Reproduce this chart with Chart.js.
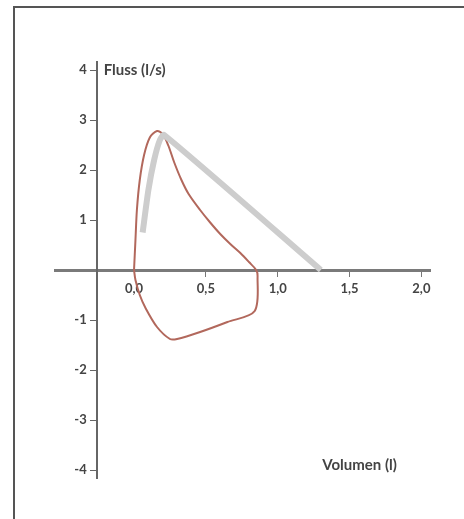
<!DOCTYPE html>
<html>
<head>
<meta charset="utf-8">
<script src="https://cdn.jsdelivr.net/npm/chart.js@4/dist/chart.umd.min.js"></script>
<style>
    body { margin: 0; background: #fff; }
    #wrap { position: relative; width: 464px; height: 519px; overflow: hidden; }
    #frame {
        position: absolute; left: 13px; top: 6px; width: 520px; height: 560px;
        border-left: 2px solid #555; border-top: 2px solid #555;
    }
    #flowChart { position: absolute; left: 0; top: 0; }
</style>
</head>
<body>
<div id="wrap">
    <div id="frame"></div>
    <canvas id="flowChart" width="464" height="519"></canvas>
</div>
<script>
// Tick positions and their labels
var xTicks = [0, 0.5, 1.0, 1.5, 2.0];
var xTickLabels = ['0,0', '0,5', '1,0', '1,5', '2,0'];
var yTicks = [4, 3, 2, 1, -1, -2, -3, -4];
var yTickLabels = ['4', '3', '2', '1', '-1', '-2', '-3', '-4'];

// Measured loop (volume in l, flow in l/s)
var loopVolume = [0.00, 0.01, 0.02, 0.04, 0.07, 0.11, 0.16, 0.20, 0.24, 0.28, 0.33, 0.38, 0.46, 0.53, 0.60, 0.67, 0.74, 0.80, 0.85, 0.86, 0.84, 0.65, 0.46, 0.30, 0.25, 0.16, 0.08, 0.04, 0.01, 0.00];
var loopFlow   = [0.00, 0.60, 1.20, 1.80, 2.30, 2.65, 2.78, 2.72, 2.48, 2.15, 1.80, 1.52, 1.20, 0.95, 0.72, 0.52, 0.34, 0.16, 0.00, -0.12, -0.82, -1.04, -1.24, -1.38, -1.38, -1.14, -0.76, -0.50, -0.20, 0.00];

// Predicted curve (grey)
var predVolume = [0.06, 0.10, 0.14, 0.18, 0.21, 1.30];
var predFlow   = [0.75, 1.60, 2.20, 2.60, 2.70, 0.00];

function toPoints(xs, ys) {
    var pts = [];
    for (var i = 0; i < xs.length; i++) {
        pts.push({x: xs[i], y: ys[i]});
    }
    return pts;
}

// Axis titles and y tick labels (Chart.js puts labels of a value-positioned
// y axis right on the axis line, so they are drawn here with a gap)
var axisText = {
    id: 'axisText',
    afterDraw: function(chart) {
        var ctx = chart.ctx;
        var xs = chart.scales.x;
        var ys = chart.scales.y;
        var axisX = xs.getPixelForValue(-0.26);
        ctx.save();
        ctx.fillStyle = '#444';
        ctx.textBaseline = 'middle';
        ctx.font = 'bold 13px Lato';
        ctx.textAlign = 'right';
        for (var i = 0; i < yTicks.length; i++) {
            ctx.fillText(yTickLabels[i], axisX - 10, ys.getPixelForValue(yTicks[i]));
        }
        ctx.font = 'bold 15px Lato';
        ctx.textAlign = 'left';
        ctx.fillText('Fluss (l/s)', axisX + 7, ys.getPixelForValue(4));
        ctx.fillText('Volumen (l)', xs.getPixelForValue(1.31), ys.getPixelForValue(-3.9));
        ctx.restore();
    }
};

var ctx = document.getElementById('flowChart').getContext('2d');
var flowChart = new Chart(ctx, {
    type: 'scatter',
    data: {
        datasets: [
            {
                data: toPoints(predVolume, predFlow),
                showLine: true,
                borderColor: 'rgb(205, 205, 205)',
                borderWidth: 6,
                pointRadius: 0,
                tension: 0.2
            },
            {
                data: toPoints(loopVolume, loopFlow),
                showLine: true,
                borderColor: 'rgb(178, 104, 92)',
                borderWidth: 2,
                pointRadius: 0,
                tension: 0.3
            }
        ]
    },
    options: {
        responsive: false,
        animation: false,
        layout: {
            padding: {left: 55, top: 62, right: 34, bottom: 41}
        },
        plugins: {
            legend: { display: false },
            tooltip: { enabled: false }
        },
        scales: {
            x: {
                type: 'linear',
                min: -0.55,
                max: 2.06,
                position: {y: 0},
                afterBuildTicks: function(scale) {
                    scale.ticks = xTicks.map(function(v) { return {value: v}; });
                },
                ticks: {
                    color: '#444',
                    font: { family: 'Lato', size: 13, weight: 'bold' },
                    padding: 6,
                    callback: function(value) {
                        var i = xTicks.indexOf(value);
                        return i >= 0 ? xTickLabels[i] : '';
                    }
                },
                grid: { drawOnChartArea: false, tickLength: 5, color: '#777' },
                border: { color: '#7a7a7a', width: 3 }
            },
            y: {
                type: 'linear',
                min: -4.16,
                max: 4.16,
                position: {x: -0.26},
                afterBuildTicks: function(scale) {
                    scale.ticks = yTicks.map(function(v) { return {value: v}; });
                },
                ticks: { display: false },
                grid: { drawOnChartArea: false, tickLength: 6, color: '#666' },
                border: { color: '#666', width: 2 }
            }
        }
    },
    plugins: [axisText]
});
</script>
</body>
</html>
